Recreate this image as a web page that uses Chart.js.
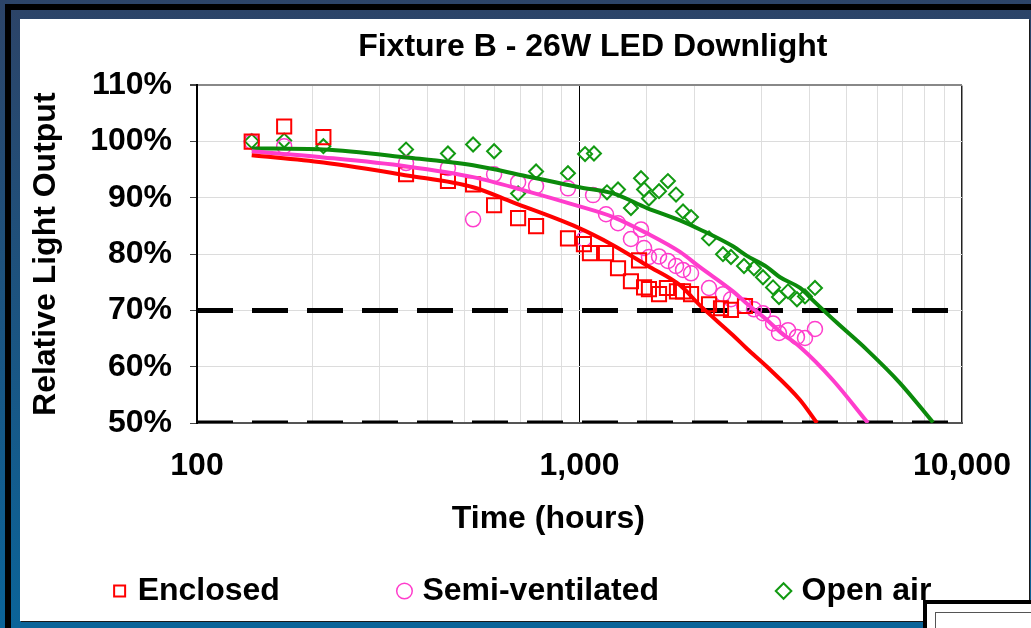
<!DOCTYPE html>
<html>
<head>
<meta charset="utf-8">
<script src="https://cdn.jsdelivr.net/npm/chart.js@4"></script>
<style>
html, body { margin: 0; padding: 0; }
body { width: 1031px; height: 628px; position: relative; overflow: hidden; background: linear-gradient(#2c4468, #0b6499); }
#edge { position: absolute; left: 5px; top: 4px; right: 0; bottom: 0; background: #000; }
#band { position: absolute; left: 11px; top: 10px; right: 0; bottom: 0; background: linear-gradient(#2c4468, #0b6499); }
#card { position: absolute; left: 20px; top: 19px; width: 1009px; height: 602px; background: #fff; box-shadow: 1px 1px 0 #1a1a1a; }
#corner { position: absolute; left: 923px; top: 600px; right: 0; bottom: 0; background: #fff; border-left: 4px solid #000; border-top: 4px solid #000; }
#corner div { position: absolute; left: 8px; top: 8px; right: -2px; bottom: -2px; border-left: 1px solid #555; border-top: 1px solid #555; }
</style>
</head>
<body>
<div id="edge"></div>
<div id="band"></div>
<div id="card"><canvas id="myChart" width="1009" height="602"></canvas></div>
<div id="corner"><div></div></div>
<script>
// measured points (hours, % of initial output)
const seriesNames = ['Enclosed', 'Semi-ventilated', 'Open air'];

const enclosedHours = [139, 169, 214, 352, 453, 527, 598, 691, 770, 933, 1027, 1065, 1173, 1261, 1363, 1431, 1475, 1519, 1614, 1693, 1798, 1865, 1957, 2181, 2344, 2489, 2708];
const enclosedPct = [100, 102.7, 100.8, 94.2, 93.0, 92.4, 88.7, 86.4, 85.0, 82.8, 81.8, 80.2, 80.2, 77.5, 75.2, 78.9, 74.1, 73.8, 72.9, 74.0, 73.4, 73.4, 72.9, 71.1, 70.4, 70.1, 70.8];

const semiHours = [139, 169, 352, 453, 527, 598, 691, 770, 933, 1027, 1085, 1173, 1261, 1363, 1448, 1475, 1519, 1614, 1703, 1788, 1865, 1957, 2181, 2372, 2489, 2692, 2859, 3018, 3206, 3323, 3509, 3703, 3886, 4127];
const semiPct = [100, 99.2, 96.2, 95.3, 86.2, 94.2, 92.8, 92.1, 91.7, 82.7, 90.5, 87.1, 85.5, 82.7, 84.4, 81.1, 79.5, 79.6, 78.8, 77.9, 77.2, 76.6, 74.0, 72.9, 72.0, 70.9, 70.2, 69.5, 67.7, 66.0, 66.5, 65.3, 65.1, 66.7];

const openHours = [139, 169, 214, 352, 453, 527, 598, 691, 770, 933, 1034, 1091, 1180, 1261, 1363, 1448, 1475, 1519, 1614, 1703, 1788, 1865, 1957, 2181, 2372, 2489, 2692, 2859, 3018, 3206, 3323, 3509, 3703, 3886, 4127];
const openPct = [100.1, 100.2, 99.2, 98.6, 97.9, 99.5, 98.3, 90.8, 94.7, 94.4, 97.8, 97.9, 91.0, 91.5, 88.2, 93.5, 91.5, 89.9, 91.2, 93.0, 90.6, 87.6, 86.6, 82.8, 80.0, 79.5, 77.9, 77.5, 75.9, 74.1, 72.4, 73.4, 72.0, 72.5, 74.0];

// fitted trend curves
const enclosedFitHours = [139, 214, 354, 527, 670, 985, 1224, 1502, 1831, 2065, 2519, 2741, 3092, 3772, 4178];
const enclosedFitPct = [97.6, 96.3, 94.0, 91.9, 89.2, 84.8, 81.6, 78.0, 74.5, 70.9, 65.6, 63.2, 60.0, 54.1, 50.0];

const semiFitHours = [139, 214, 354, 527, 712, 1000, 1224, 1502, 1831, 2065, 2519, 2741, 3092, 3344, 3772, 4600, 5678];
const semiFitPct = [98.3, 97.2, 95.6, 93.7, 91.4, 88.5, 86.6, 83.7, 80.4, 77.7, 73.4, 71.2, 68.3, 66.2, 63.5, 57.6, 50.0];

const openFitHours = [139, 214, 354, 527, 712, 1000, 1224, 1502, 1831, 2065, 2519, 2741, 3092, 3344, 3772, 4078, 4712, 5644, 6886, 8400];
const openFitPct = [98.8, 98.6, 97.2, 95.8, 94.0, 91.9, 90.8, 88.2, 86.0, 84.4, 81.4, 79.7, 77.7, 75.9, 74.0, 71.8, 67.8, 63.0, 57.1, 50.1];

const thresholds = [70, 50];
const xTicks = [100, 1000, 10000];
const xTickLabels = ['100', '1,000', '10,000'];
const yMin = 50, yMax = 110, yStep = 10;

const pts = (hours, pct) => hours.map((h, i) => ({x: h, y: pct[i]}));
const font = (size, lh) => ({family: "'Liberation Sans', Arial, sans-serif", size: size, weight: 'bold', lineHeight: lh || 1.2});

Chart.defaults.color = '#000';
Chart.defaults.font.family = "'Liberation Sans', Arial, sans-serif";

const colors = ['#ff0000', '#ff3dcc', '#129a12'];
const lineColors = ['#ff0000', '#ff3dcc', '#0b8a0b'];

const ctx = document.getElementById('myChart').getContext('2d');
new Chart(ctx, {
    type: 'scatter',
    data: {
        datasets: [
            {label: seriesNames[0], data: pts(enclosedHours, enclosedPct), pointStyle: 'rect', pointRadius: 10, borderColor: colors[0], backgroundColor: 'transparent', borderWidth: 2, order: 1},
            {label: seriesNames[1], data: pts(semiHours, semiPct), pointStyle: 'circle', pointRadius: 7.5, borderColor: colors[1], backgroundColor: 'transparent', borderWidth: 1.5, order: 1},
            {label: seriesNames[2], data: pts(openHours, openPct), pointStyle: 'rectRot', pointRadius: 7, borderColor: colors[2], backgroundColor: 'transparent', borderWidth: 2, order: 1},
            {label: 'fit1', data: pts(enclosedFitHours, enclosedFitPct), showLine: true, pointRadius: 0, borderColor: lineColors[0], borderWidth: 4, cubicInterpolationMode: 'monotone', order: 0},
            {label: 'fit2', data: pts(semiFitHours, semiFitPct), showLine: true, pointRadius: 0, borderColor: lineColors[1], borderWidth: 4, cubicInterpolationMode: 'monotone', order: 0},
            {label: 'fit3', data: pts(openFitHours, openFitPct), showLine: true, pointRadius: 0, borderColor: lineColors[2], borderWidth: 4, cubicInterpolationMode: 'monotone', order: 0},
            ...thresholds.map(t => ({
                label: 'limit ' + t,
                data: [{x: xTicks[0], y: t}, {x: xTicks[xTicks.length - 1], y: t}],
                showLine: true, pointRadius: 0, borderColor: '#000', borderWidth: 5,
                borderDash: [36, 19], borderCapStyle: 'butt', order: 2
            }))
        ]
    },
    options: {
        responsive: false,
        animation: false,
        layout: {padding: {left: 0, right: 0, top: 0, bottom: 4}},
        plugins: {
            tooltip: {enabled: false},
            title: {
                display: true,
                text: '   Fixture B - 26W LED Downlight',
                font: font(32),
                fullSize: false,
                padding: {top: 9, bottom: 19}
            },
            legend: {
                position: 'bottom',
                labels: {
                    usePointStyle: true,
                    boxWidth: 4,
                    boxHeight: 11,
                    padding: 7,
                    font: font(32),
                    generateLabels(chart) {
                        const items = Chart.defaults.plugins.legend.labels.generateLabels(chart)
                            .filter(it => it.datasetIndex < seriesNames.length);
                        return items.map((it, i) => Object.assign(it, {text: i < items.length - 1 ? it.text + ' '.repeat(13) : it.text}));
                    }
                }
            }
        },
        scales: {
            x: {
                type: 'logarithmic',
                min: xTicks[0],
                max: xTicks[xTicks.length - 1],
                afterFit(scale) { scale.height = 145; },
                border: {color: '#555', width: 2},
                grid: {
                    drawTicks: false,
                    color: (c) => c.tick && c.tick.value === 1000 ? '#000' : (c.tick && c.tick.value === 10000 ? '#222' : '#dedede'),
                    lineWidth: (c) => c.tick && c.tick.value === 10000 ? 1.5 : 1
                },
                ticks: {
                    autoSkip: false,
                    maxRotation: 0,
                    padding: 18,
                    font: font(32, 1.6),
                    callback: (v) => {
                        const i = xTicks.indexOf(v);
                        return i >= 0 ? xTickLabels[i] : '';
                    }
                },
                title: {display: true, text: 'Time (hours)' + ' '.repeat(7), font: font(32), padding: {top: 0, bottom: 30}}
            },
            y: {
                min: yMin,
                max: yMax,
                afterFit(scale) { scale.width = 177; },
                border: {color: '#000', width: 2},
                grid: {
                    tickLength: 7,
                    tickColor: '#444',
                    color: (c) => c.tick && c.tick.value === yMax ? '#888' : '#dcdcdc',
                    lineWidth: (c) => c.tick && c.tick.value === yMax ? 2 : 1
                },
                ticks: {stepSize: yStep, padding: 18, font: font(32), callback: (v) => v + '%'},
                title: {display: true, text: 'Relative Light Output', font: font(32), padding: {top: 7, bottom: 0}}
            },
            y2: {
                position: 'right',
                afterFit(scale) { scale.width = 67; },
                grid: {display: false},
                border: {display: false},
                ticks: {display: false}
            }
        }
    }
});
</script>
</body>
</html>
